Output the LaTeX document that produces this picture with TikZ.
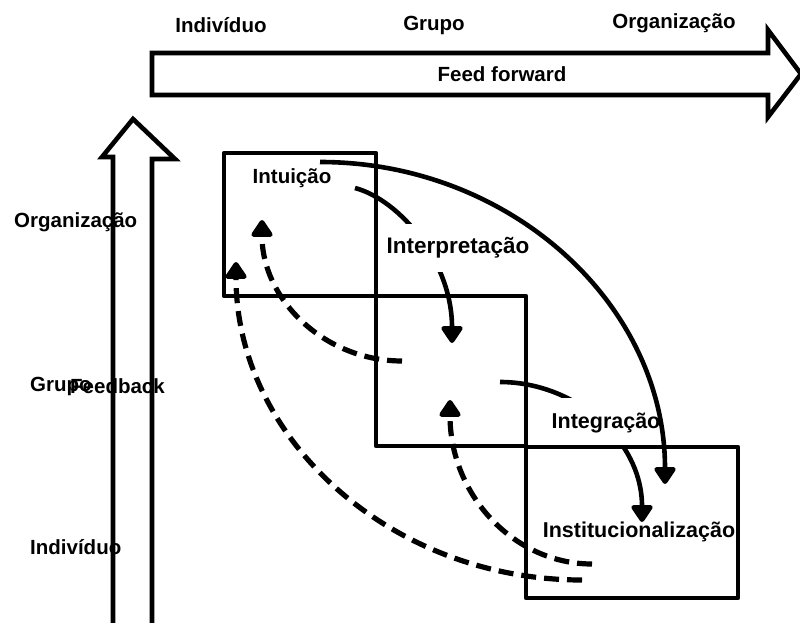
\documentclass[tikz,border=0pt]{standalone}
\usepackage{fontspec}
\setmainfont{Liberation Sans}
\usetikzlibrary{arrows.meta}
\begin{document}
\begin{tikzpicture}[x=1pt,y=-1pt,
  lab/.style={font=\bfseries\fontsize{20.5}{24}\selectfont, inner sep=0pt},
  biglab/.style={lab, font=\bfseries\fontsize{21.5}{25}\selectfont},
  cover/.style={fill=white, inner xsep=1pt},
  bold line/.style={line width=4.6pt, line cap=butt},
  tipped/.style={bold line, -{Triangle[width=24pt,length=19pt,round]}},
  dashline/.style={tipped, line width=5.2pt, dash pattern=on 15pt off 8pt},
  outline/.style={line width=4.6pt, line join=miter},
]
\useasboundingbox (0,0) rectangle (800,623);

% curves interrupted by labels
\coordinate (a0) at (355,188);
\coordinate (a1) at (452,343);
\coordinate (c0) at (500,382);
\coordinate (c1) at (642,522);
\draw[tipped] (a0) .. controls (400,200) and (452,262) .. (a1);
\draw[tipped] (c0) .. controls (575,382) and (642,440) .. (c1);

\node[lab, cover, font=\bfseries\fontsize{22.5}{26}\selectfont, minimum height=48pt] (interp) at (458,248) {Interpretação};
\node[biglab, cover, minimum height=50pt] (integ) at (606,423) {Integração};

% boxes
\draw[bold line, line join=round] (224,153) rectangle (376,296);
\draw[bold line, line join=round] (376,296) rectangle (526,446);
\draw[bold line, line join=round] (526,447) rectangle (738,598);

% big solid arc
\coordinate (b0) at (320,162);
\coordinate (b1) at (665,484);
\draw[tipped] (b0) .. controls (510,162) and (665,304) .. (b1);

% dashed feedback arcs
\coordinate (d10) at (402,361);
\coordinate (d11) at (262,220);
\draw[dashline] (d10) .. controls (325,361) and (262,300) .. (d11);
\coordinate (d20) at (582,580);
\coordinate (d21) at (236,262);
\draw[dashline] (d20) .. controls (390,580) and (236,438) .. (d21);
\coordinate (d30) at (592,564);
\coordinate (d31) at (450,400);
\draw[dashline] (d30) .. controls (514,564) and (450,495) .. (d31);

% feed forward arrow
\draw[outline] (152,53) -- (768,53) -- (768,30) -- (801,74) -- (768,117) -- (768,95) -- (152,95) -- cycle;
% feedback arrow
\draw[outline] (113,640) -- (113,157) -- (102,157) -- (133,119) -- (175,159) -- (152,159) -- (152,640);

% labels
\node[lab] (ti) at (221,25) {Indivíduo};
\node[lab] (tg) at (434,25) {Grupo};
\node[lab] (to) at (674,23) {Organização};
\node[lab] (ff) at (502,74) {Feed forward};
\node[lab, anchor=west] (lo) at (14,222) {Organização};
\node[lab, anchor=west] (lg) at (30,386) {Grupo};
\node[lab, anchor=west] (fb) at (70,386) {Feedback};
\node[lab, anchor=west] (li) at (30,547) {Indivíduo};
\node[lab] (intu) at (292,178) {Intuição};
\node[biglab] (inst) at (639,532) {Institucionalização};
\end{tikzpicture}
\end{document}
